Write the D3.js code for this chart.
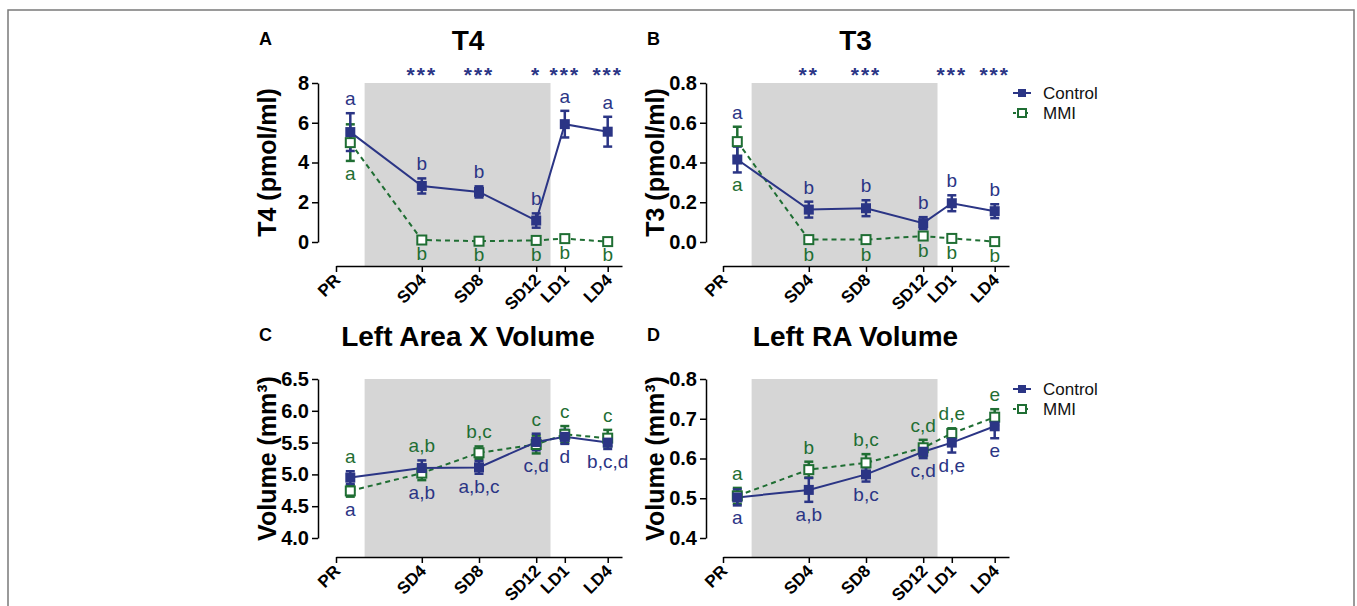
<!DOCTYPE html>
<html>
<head>
<meta charset="utf-8">
<script src="https://cdn.jsdelivr.net/npm/d3@7"></script>
<style>
  body { margin: 0; background: #fff; }
  svg { font-family: "Liberation Sans", Arial, Helvetica, sans-serif; }
</style>
</head>
<body>
<svg id="chart" width="1357" height="606"></svg>
<script>
let navy = "#2b3585";
let green = "#1f6e33";
let shade = "#d6d6d6";

// categories / time axis (days relative to start of short days)
const timepoints = ["PR", "SD4", "SD8", "SD12", "LD1", "LD4"];
const pointDays = [-1, 4, 8, 12, 14, 17];
const tickDays = [-2, 4, 8, 12, 14, 17];
const shadeDays = [0, 13];

// T4
const t4Control = [5.53, 2.82, 2.52, 1.08, 5.93, 5.55];
const t4ControlErr = [0.95, 0.38, 0.28, 0.36, 0.67, 0.75];
const t4Mmi = [5.0, 0.1, 0.04, 0.08, 0.17, 0.02];
const t4MmiErr = [0.92, 0.06, 0.04, 0.06, 0.05, 0.03];
const t4LettersControl = ["a", "b", "b", "b", "a", "a"];
const t4LettersMmi = ["a", "b", "b", "b", "b", "b"];
const t4Stars = ["", "***", "***", "*", "***", "***"];

// T3
const t3Control = [0.415, 0.163, 0.17, 0.095, 0.195, 0.155];
const t3ControlErr = [0.065, 0.04, 0.04, 0.03, 0.04, 0.035];
const t3Mmi = [0.505, 0.012, 0.012, 0.03, 0.018, 0.002];
const t3MmiErr = [0.075, 0.01, 0.01, 0.01, 0.01, 0.008];
const t3LettersControl = ["a", "b", "b", "b", "b", "b"];
const t3LettersMmi = ["a", "b", "b", "b", "b", "b"];
const t3Stars = ["", "**", "***", "", "***", "***"];

// Left Area X volume
const areaXControl = [4.95, 5.1, 5.11, 5.51, 5.59, 5.5];
const areaXControlErr = [0.1, 0.12, 0.1, 0.13, 0.11, 0.1];
const areaXMmi = [4.74, 5.02, 5.34, 5.47, 5.63, 5.57];
const areaXMmiErr = [0.09, 0.11, 0.1, 0.14, 0.13, 0.13];
const areaXLettersControl = ["a", "a,b", "a,b,c", "c,d", "d", "b,c,d"];
const areaXLettersMmi = ["a", "a,b", "b,c", "c", "c", "c"];

// Left RA volume
const raControl = [0.502, 0.521, 0.56, 0.617, 0.64, 0.681];
const raControlErr = [0.02, 0.03, 0.018, 0.016, 0.025, 0.03];
const raMmi = [0.506, 0.572, 0.589, 0.627, 0.663, 0.704];
const raMmiErr = [0.02, 0.02, 0.022, 0.02, 0.013, 0.02];
const raLettersControl = ["a", "a,b", "b,c", "c,d", "d,e", "e"];
const raLettersMmi = ["a", "b", "b,c", "c,d", "d,e", "e"];

const seriesNames = ["Control", "MMI"];

const panels = [
  { tag: "A", title: "T4", ylabel: "T4 (pmol/ml)", ctrl: t4Control, ctrlErr: t4ControlErr,
    mmi: t4Mmi, mmiErr: t4MmiErr, lc: t4LettersControl, lm: t4LettersMmi, stars: t4Stars,
    yDomain: [0, 8], yTicks: [0, 2, 4, 6, 8], fmt: d3.format("d"), ctrlAbove: true,
    left: 318, x0: 336, x1: 622, top: 83, bot: 242, axisY: 266, legend: false },
  { tag: "B", title: "T3", ylabel: "T3 (pmol/ml)", ctrl: t3Control, ctrlErr: t3ControlErr,
    mmi: t3Mmi, mmiErr: t3MmiErr, lc: t3LettersControl, lm: t3LettersMmi, stars: t3Stars,
    yDomain: [0, 0.8], yTicks: [0, 0.2, 0.4, 0.6, 0.8], fmt: d3.format(".1f"), ctrlAbove: true,
    left: 706, x0: 723, x1: 1009, top: 83, bot: 242, axisY: 266, legend: true },
  { tag: "C", title: "Left Area X Volume", ylabel: "Volume (mm\u00b3)", ctrl: areaXControl, ctrlErr: areaXControlErr,
    mmi: areaXMmi, mmiErr: areaXMmiErr, lc: areaXLettersControl, lm: areaXLettersMmi, stars: null,
    yDomain: [4, 6.5], yTicks: [4, 4.5, 5, 5.5, 6, 6.5], fmt: d3.format(".1f"), ctrlAbove: false,
    left: 318, x0: 336, x1: 622, top: 379, bot: 538, axisY: 557, legend: false },
  { tag: "D", title: "Left RA Volume", ylabel: "Volume (mm\u00b3)", ctrl: raControl, ctrlErr: raControlErr,
    mmi: raMmi, mmiErr: raMmiErr, lc: raLettersControl, lm: raLettersMmi, stars: null,
    yDomain: [0.4, 0.8], yTicks: [0.4, 0.5, 0.6, 0.7, 0.8], fmt: d3.format(".1f"), ctrlAbove: false,
    left: 706, x0: 723, x1: 1009, top: 379, bot: 538, axisY: 557, legend: true }
];

const svg = d3.select("#chart");

// outer frame
svg.append("rect")
  .attr("x", 8).attr("y", 10)
  .attr("width", 1346).attr("height", 640)
  .attr("fill", "none")
  .attr("stroke", "#7a7a7a")
  .attr("stroke-width", 1.5);

panels.forEach(drawPanel);

function drawPanel(p) {
  const g = svg.append("g");

  const x = d3.scaleLinear().domain([-2, 18]).range([p.x0, p.x1]);
  const y = d3.scaleLinear().domain(p.yDomain).range([p.bot, p.top]);

  // short-day shading
  g.append("rect")
    .attr("x", x(shadeDays[0]))
    .attr("y", p.top)
    .attr("width", x(shadeDays[1]) - x(shadeDays[0]))
    .attr("height", p.axisY - p.top)
    .attr("fill", shade);

  // y axis
  const ya = g.append("g")
    .attr("transform", `translate(${p.left},0)`)
    .call(d3.axisLeft(y).tickValues(p.yTicks).tickFormat(p.fmt).tickSize(6).tickSizeOuter(0).tickPadding(3));
  ya.select(".domain").attr("stroke", "#000").attr("stroke-width", 1.5);
  ya.selectAll(".tick line").attr("stroke", "#000").attr("stroke-width", 1.5);
  ya.selectAll(".tick text")
    .attr("fill", "#000")
    .style("font-size", "20px")
    .style("font-weight", "bold")
    .style("font-family", "Liberation Sans, Arial, sans-serif");

  // x axis
  const xa = g.append("g")
    .attr("transform", `translate(0,${p.axisY})`)
    .call(d3.axisBottom(x).tickValues(tickDays)
      .tickFormat((d, i) => timepoints[i]).tickSize(6).tickSizeOuter(0));
  xa.select(".domain").attr("stroke", "#000").attr("stroke-width", 1.5);
  xa.selectAll(".tick line").attr("stroke", "#000").attr("stroke-width", 1.5);
  xa.selectAll(".tick text")
    .attr("fill", "#000")
    .attr("text-anchor", "end")
    .attr("dy", null)
    .attr("y", 0)
    .attr("transform", "translate(5,15) rotate(-45)")
    .style("font-size", "17px")
    .style("font-weight", "bold")
    .style("font-family", "Liberation Sans, Arial, sans-serif");

  // titles
  g.append("text")
    .attr("x", (p.left + p.x1) / 2 - 2)
    .attr("y", p.top - 33)
    .attr("text-anchor", "middle")
    .style("font-size", "28px")
    .style("font-weight", "bold")
    .text(p.title);

  g.append("text")
    .attr("x", p.left - 59)
    .attr("y", p.top - 38)
    .style("font-size", "18px")
    .style("font-weight", "bold")
    .text(p.tag);

  g.append("text")
    .attr("transform", `translate(${p.left - 42},${(p.top + p.bot) / 2}) rotate(-90)`)
    .attr("text-anchor", "middle")
    .style("font-size", "25px")
    .style("font-weight", "bold")
    .text(p.ylabel);

  const rows = timepoints.map((t, i) => ({
    i: i,
    day: pointDays[i],
    c: p.ctrl[i], ce: p.ctrlErr[i],
    m: p.mmi[i], me: p.mmiErr[i]
  }));

  // lines
  g.append("path")
    .datum(rows)
    .attr("fill", "none")
    .attr("stroke", green)
    .attr("stroke-width", 2)
    .attr("stroke-dasharray", "5,4")
    .attr("d", d3.line().x(d => x(d.day)).y(d => y(d.m)));

  g.append("path")
    .datum(rows)
    .attr("fill", "none")
    .attr("stroke", navy)
    .attr("stroke-width", 2)
    .attr("d", d3.line().x(d => x(d.day)).y(d => y(d.c)));

  // error bars
  const series = [
    { key: "m", err: "me", color: green },
    { key: "c", err: "ce", color: navy }
  ];
  series.forEach(s => {
    const eb = g.append("g");
    eb.selectAll("line.v")
      .data(rows).enter().append("line")
      .attr("x1", d => x(d.day)).attr("x2", d => x(d.day))
      .attr("y1", d => y(d[s.key] - d[s.err])).attr("y2", d => y(d[s.key] + d[s.err]))
      .attr("stroke", s.color).attr("stroke-width", 2.5);
    [-1, 1].forEach(sign => {
      eb.selectAll("line.cap" + sign)
        .data(rows).enter().append("line")
        .attr("x1", d => x(d.day) - 4.5).attr("x2", d => x(d.day) + 4.5)
        .attr("y1", d => y(d[s.key] + sign * d[s.err]))
        .attr("y2", d => y(d[s.key] + sign * d[s.err]))
        .attr("stroke", s.color).attr("stroke-width", 2.5);
    });
  });

  // markers
  g.selectAll(".mmi-pt")
    .data(rows).enter().append("rect")
    .attr("x", d => x(d.day) - 4.5).attr("y", d => y(d.m) - 4.5)
    .attr("width", 9).attr("height", 9)
    .attr("fill", "#fff").attr("stroke", green).attr("stroke-width", 2);

  g.selectAll(".ctrl-pt")
    .data(rows).enter().append("rect")
    .attr("x", d => x(d.day) - 5).attr("y", d => y(d.c) - 5)
    .attr("width", 10).attr("height", 10)
    .attr("fill", navy);

  // significance letters
  const topOf = d => Math.min(y(d.c + d.ce), y(d.m + d.me));
  const botOf = d => Math.max(y(d.c - d.ce), y(d.m - d.me));
  const above = p.ctrlAbove ? p.lc : p.lm;
  const below = p.ctrlAbove ? p.lm : p.lc;
  const aboveColor = p.ctrlAbove ? navy : green;
  const belowColor = p.ctrlAbove ? green : navy;

  g.selectAll(".lab-above")
    .data(rows).enter().append("text")
    .attr("x", d => x(d.day))
    .attr("y", d => topOf(d) - 8)
    .attr("text-anchor", "middle")
    .attr("fill", aboveColor)
    .style("font-size", "19px")
    .text(d => above[d.i]);

  g.selectAll(".lab-below")
    .data(rows).enter().append("text")
    .attr("x", d => x(d.day))
    .attr("y", d => botOf(d) + 19)
    .attr("text-anchor", "middle")
    .attr("fill", belowColor)
    .style("font-size", "19px")
    .text(d => below[d.i]);

  // stars
  if (p.stars) {
    g.selectAll(".star")
      .data(rows).enter().append("text")
      .attr("x", d => x(d.day))
      .attr("y", p.top - 1)
      .attr("text-anchor", "middle")
      .attr("fill", navy)
      .style("font-size", "21px")
      .style("font-weight", "bold")
      .style("letter-spacing", "2px")
      .text(d => p.stars[d.i]);
  }

  // legend
  if (p.legend) {
    const lg = g.append("g").attr("transform", `translate(${p.x1 + 4},${p.top + 10})`);
    seriesNames.forEach((name, i) => {
      const row = lg.append("g").attr("transform", `translate(0,${i * 20})`);
      const col = i === 0 ? navy : green;
      row.append("line")
        .attr("x1", 0).attr("x2", 18).attr("y1", 0).attr("y2", 0)
        .attr("stroke", col).attr("stroke-width", 2)
        .attr("stroke-dasharray", i === 0 ? null : "3,3");
      row.append("rect")
        .attr("x", 5).attr("y", -4).attr("width", 8).attr("height", 8)
        .attr("fill", i === 0 ? col : "#fff")
        .attr("stroke", col).attr("stroke-width", i === 0 ? 0 : 2);
      row.append("text")
        .attr("x", 30).attr("y", 6)
        .attr("fill", "#111")
        .style("font-size", "17px")
        .text(name);
    });
  }
}
</script>
</body>
</html>
